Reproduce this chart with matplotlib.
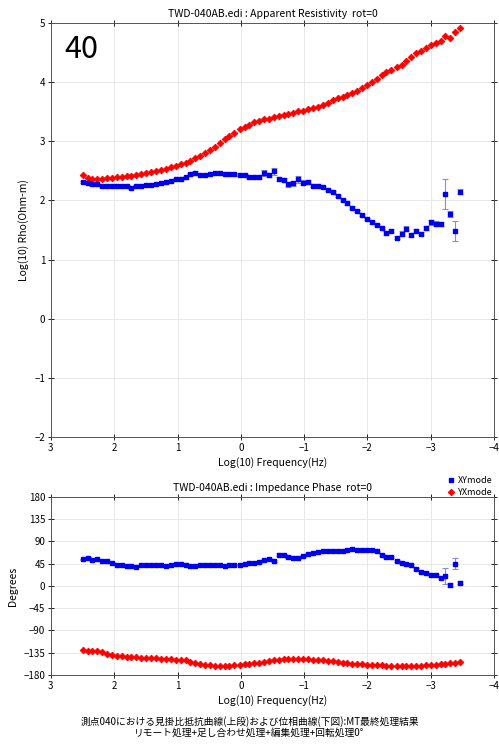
import matplotlib.pyplot as plt
import numpy as np

# 日本語を含むので CJK フォントを先に、記号は DejaVu で補う
plt.rcParams['font.family'] = ['Noto Sans CJK JP', 'DejaVu Sans']
plt.rcParams['axes.unicode_minus'] = True

site = "TWD-040AB.edi"

# 周波数 (log10 Hz)
log_freq = [2.50, 2.42, 2.35, 2.27, 2.19, 2.11, 2.04, 1.96, 1.88, 1.80,
            1.73, 1.65, 1.57, 1.49, 1.42, 1.34, 1.26, 1.18, 1.11, 1.03,
            0.95, 0.87, 0.80, 0.72, 0.64, 0.56, 0.49, 0.41, 0.33, 0.25,
            0.18, 0.10, 0.02, -0.06, -0.13, -0.21, -0.29, -0.37, -0.44, -0.52,
            -0.60, -0.68, -0.75, -0.83, -0.91, -0.99, -1.06, -1.14, -1.22, -1.30,
            -1.37, -1.45, -1.53, -1.61, -1.68, -1.76, -1.84, -1.92, -1.99, -2.07,
            -2.15, -2.23, -2.30, -2.38, -2.46, -2.54, -2.61, -2.69, -2.77, -2.85,
            -2.92, -3.00, -3.08, -3.16, -3.23, -3.31, -3.39, -3.47]

# 見掛比抵抗 log10(Ohm-m)
xy_rho = [2.31, 2.30, 2.27, 2.28, 2.25, 2.25, 2.25, 2.25, 2.24, 2.24,
          2.21, 2.24, 2.25, 2.26, 2.26, 2.28, 2.29, 2.31, 2.33, 2.36,
          2.37, 2.39, 2.44, 2.47, 2.43, 2.43, 2.45, 2.46, 2.46, 2.45,
          2.44, 2.44, 2.43, 2.43, 2.39, 2.39, 2.40, 2.47, 2.43, 2.49,
          2.36, 2.35, 2.27, 2.29, 2.36, 2.30, 2.32, 2.25, 2.25, 2.23,
          2.18, 2.14, 2.07, 2.01, 1.95, 1.88, 1.82, 1.75, 1.69, 1.63,
          1.59, 1.53, 1.45, 1.49, 1.37, 1.44, 1.52, 1.42, 1.49, 1.44,
          1.53, 1.63, 1.61, 1.60, 2.11, 1.77, 1.48, 2.15]
xy_rho_err = [0.02, 0.02, 0.02, 0.02, 0.02, 0.02, 0.02, 0.02, 0.02, 0.02,
              0.02, 0.02, 0.02, 0.02, 0.02, 0.02, 0.02, 0.02, 0.02, 0.02,
              0.02, 0.02, 0.02, 0.02, 0.02, 0.02, 0.02, 0.02, 0.02, 0.02,
              0.02, 0.02, 0.02, 0.02, 0.02, 0.02, 0.03, 0.05, 0.04, 0.06,
              0.03, 0.03, 0.05, 0.04, 0.06, 0.04, 0.03, 0.02, 0.02, 0.02,
              0.02, 0.02, 0.02, 0.02, 0.02, 0.02, 0.02, 0.02, 0.02, 0.02,
              0.02, 0.02, 0.03, 0.03, 0.03, 0.04, 0.04, 0.03, 0.03, 0.03,
              0.03, 0.04, 0.04, 0.03, 0.26, 0.05, 0.17, 0.04]
yx_rho = [2.43, 2.38, 2.36, 2.37, 2.37, 2.38, 2.38, 2.39, 2.40, 2.41,
          2.42, 2.43, 2.44, 2.47, 2.48, 2.50, 2.52, 2.54, 2.57, 2.59,
          2.61, 2.63, 2.67, 2.71, 2.75, 2.80, 2.85, 2.91, 2.97, 3.04,
          3.09, 3.14, 3.20, 3.24, 3.28, 3.32, 3.35, 3.38, 3.37, 3.41,
          3.43, 3.45, 3.47, 3.48, 3.51, 3.52, 3.55, 3.56, 3.58, 3.61,
          3.64, 3.69, 3.73, 3.75, 3.78, 3.81, 3.85, 3.90, 3.96, 4.01,
          4.06, 4.12, 4.17, 4.20, 4.26, 4.29, 4.36, 4.43, 4.50, 4.53,
          4.57, 4.62, 4.66, 4.70, 4.78, 4.74, 4.85, 4.91]

# インピーダンス位相 (度)
xy_phase = [54, 57, 53, 54, 51, 50, 47, 43, 42, 40,
            40, 39, 42, 43, 42, 42, 42, 41, 42, 44,
            45, 42, 40, 40, 42, 42, 42, 42, 42, 41,
            42, 43, 43, 44, 47, 47, 48, 52, 54, 51,
            63, 63, 59, 57, 57, 61, 65, 67, 69, 71,
            71, 71, 71, 71, 73, 74, 73, 73, 72, 72,
            70, 63, 58, 58, 51, 47, 45, 42, 35, 28,
            26, 23, 23, 16, 21, 2, 45, 7]
xy_phase_err = [1, 1, 1, 1, 1, 1, 1, 1, 1, 1,
                1, 1, 1, 1, 1, 1, 1, 1, 1, 1,
                1, 1, 1, 1, 1, 1, 1, 1, 1, 1,
                1, 1, 1, 1, 1, 1, 1, 2, 2, 2,
                3, 2, 3, 3, 3, 2, 2, 1, 1, 1,
                1, 1, 1, 1, 1, 1, 1, 1, 1, 1,
                1, 2, 2, 2, 2, 2, 2, 2, 2, 2,
                2, 2, 2, 2, 16, 4, 11, 3]
yx_phase = [-130, -131, -132, -132, -133, -137, -139, -141, -142, -143,
            -143, -144, -145, -145, -145, -146, -147, -148, -148, -149,
            -150, -150, -154, -156, -158, -159, -160, -161, -161, -161,
            -161, -160, -160, -158, -158, -156, -155, -153, -152, -150,
            -149, -148, -148, -148, -148, -148, -148, -149, -149, -150,
            -151, -152, -153, -155, -156, -157, -158, -158, -159, -160,
            -160, -160, -161, -161, -162, -162, -161, -161, -161, -161,
            -160, -160, -159, -158, -158, -155, -155, -154]

x_ticks = [3, 2, 1, 0, -1, -2, -3, -4]
rho_ticks = [-2, -1, 0, 1, 2, 3, 4, 5]
phase_ticks = [180, 135, 90, 45, 0, -45, -90, -135, -180]

caption = ["測点040における見掛比抵抗曲線(上段)および位相曲線(下図):MT最終処理結果",
           "リモート処理+足し合わせ処理+編集処理+回転処理0°"]

fig = plt.figure(figsize=(4.99, 7.45), dpi=100)
ax1 = fig.add_axes([0.102, 0.4134, 0.888, 0.5557])
ax2 = fig.add_axes([0.102, 0.094, 0.888, 0.2389])

ebar = dict(fmt='s', color='#0000ee', ecolor='#8a8ad6', elinewidth=0.8,
            capsize=2.5, capthick=0.8, markersize=3.4, zorder=3)
red = dict(marker='D', color='#ff0000', linestyle='none', markersize=3.4,
           markeredgewidth=0.6, zorder=3)

# 上段: 見掛比抵抗
ax1.errorbar(log_freq, xy_rho, yerr=xy_rho_err, label='XYmode', **ebar)
ax1.plot(log_freq, yx_rho, label='YXmode', **red)
ax1.set_xlim(3, -4)
ax1.set_ylim(-2, 5)
ax1.set_yticks(rho_ticks)
ax1.set_ylabel("Log(10) Rho(Ohm-m)", fontsize=7.5, labelpad=4)
ax1.set_title(f"{site} : Apparent Resistivity  rot=0", fontsize=7.5, pad=4)
ax1.text(0.03, 0.935, "40", transform=ax1.transAxes, fontsize=22,
         ha='left', va='center')

# 下段: 位相
h_xy = ax2.errorbar(log_freq, xy_phase, yerr=xy_phase_err, **ebar)
h_yx, = ax2.plot(log_freq, yx_phase, **red)
ax2.set_xlim(3, -4)
ax2.set_ylim(-180, 180)
ax2.set_yticks(phase_ticks)
ax2.set_ylabel("Degrees", fontsize=7.5, labelpad=4)
ax2.set_title(f"{site} : Impedance Phase  rot=0", fontsize=7.5, pad=4)

for ax in (ax1, ax2):
    ax.set_xticks(x_ticks)
    ax.set_xlabel("Log(10) Frequency(Hz)", fontsize=7.5, labelpad=3)
    ax.grid(True, color='#e4e4e4', linewidth=0.6)
    ax.set_axisbelow(True)
    ax.tick_params(direction='inout', length=4, width=0.6, labelsize=7,
                   top=True, right=True, pad=2)
    for sp in ax.spines.values():
        sp.set_color('#555555')
        sp.set_linewidth(0.7)

fig.legend([h_xy[0], h_yx], ['XYmode', 'YXmode'], loc='upper right',
           bbox_to_anchor=(0.998, 0.368), frameon=False, fontsize=6.5,
           handlelength=0.8, handletextpad=0.4, borderpad=0.1,
           labelspacing=0.3)

fig.text(0.5, 0.031, caption[0], ha='center', va='center', fontsize=7)
fig.text(0.5, 0.016, caption[1], ha='center', va='center', fontsize=7)

fig.savefig("out.png", dpi=100)
